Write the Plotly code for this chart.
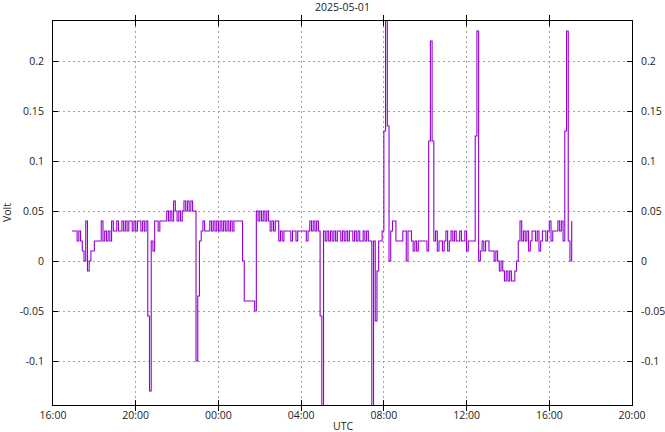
import pandas as pd
import plotly.graph_objects as go

# ---- data: voltage sampled every 5 minutes, starting 2025-04-30 16:55 UTC ----
start_time = "2025-04-30 16:55"
v_1655 = [0.03]
v_17 = [0.03, 0.03, 0.02, 0.03, 0.02, 0.01, 0.00, 0.04, -0.01, 0.00, 0.01, 0.01]
v_18 = [0.02, 0.02, 0.02, 0.02, 0.04, 0.02, 0.03, 0.02, 0.03, 0.02, 0.04, 0.03]
v_19 = [0.03, 0.04, 0.03, 0.03, 0.04, 0.03, 0.04, 0.03, 0.04, 0.04, 0.03, 0.04]
v_20 = [0.03, 0.04, 0.04, 0.03, 0.04, 0.03, 0.04, -0.055, -0.13, 0.02, 0.01, 0.04]
v_21 = [0.04, 0.03, 0.04, 0.04, 0.04, 0.04, 0.05, 0.04, 0.05, 0.04, 0.06, 0.05]
v_22 = [0.04, 0.05, 0.04, 0.05, 0.06, 0.05, 0.06, 0.05, 0.06, 0.05, 0.05, -0.10]
v_23 = [-0.035, 0.02, 0.03, 0.04, 0.03, 0.03, 0.03, 0.04, 0.03, 0.04, 0.03, 0.04]
v_00 = [0.03, 0.04, 0.03, 0.04, 0.03, 0.04, 0.03, 0.04, 0.03, 0.04, 0.04, 0.04]
v_01 = [0.04, 0.04, 0.00, -0.04, -0.04, -0.04, -0.04, -0.04, -0.04, -0.05, 0.05, 0.04]
v_02 = [0.05, 0.04, 0.05, 0.04, 0.05, 0.04, 0.03, 0.04, 0.03, 0.04, 0.04, 0.02]
v_03 = [0.03, 0.02, 0.03, 0.03, 0.03, 0.03, 0.02, 0.03, 0.03, 0.02, 0.03, 0.03]
v_04 = [0.03, 0.03, 0.03, 0.02, 0.03, 0.04, 0.03, 0.04, 0.03, 0.04, 0.03, -0.055]
v_05 = [-0.16, 0.03, 0.02, 0.03, 0.02, 0.03, 0.02, 0.03, 0.02, 0.03, 0.03, 0.02]
v_06 = [0.03, 0.02, 0.03, 0.02, 0.03, 0.03, 0.02, 0.03, 0.02, 0.03, 0.02, 0.02]
v_07 = [0.03, 0.02, 0.03, 0.02, 0.02, -0.16, 0.02, -0.06, -0.01, 0.02, 0.02, 0.03]
v_08 = [0.13, 0.30, 0.135, 0.00, 0.03, 0.04, 0.04, 0.02, 0.02, 0.02, 0.02, 0.03]
v_09 = [0.03, 0.00, 0.03, 0.03, 0.02, 0.01, 0.02, 0.01, 0.02, 0.02, 0.02, 0.02]
v_10 = [0.02, 0.01, 0.12, 0.22, 0.12, 0.02, 0.03, 0.01, 0.02, 0.02, 0.01, 0.02]
v_11 = [0.03, 0.01, 0.02, 0.03, 0.02, 0.03, 0.02, 0.02, 0.03, 0.02, 0.02, 0.03]
v_12 = [0.01, 0.02, 0.02, 0.02, 0.02, 0.125, 0.23, 0.00, 0.01, 0.02, 0.01, 0.02]
v_13 = [0.02, 0.01, 0.01, 0.01, 0.00, 0.01, 0.00, -0.01, 0.00, -0.01, -0.02, -0.01]
v_14 = [-0.02, -0.01, -0.02, -0.02, -0.01, 0.00, 0.02, 0.04, 0.02, 0.03, 0.02, 0.03]
v_15 = [0.01, 0.02, 0.03, 0.03, 0.02, 0.03, 0.01, 0.02, 0.03, 0.03, 0.02, 0.03]
v_16 = [0.04, 0.02, 0.03, 0.03, 0.03, 0.04, 0.03, 0.04, 0.02, 0.13, 0.23, 0.02]
v_17_end = [0.00, 0.04]

y_tick_vals = [-0.1, -0.05, 0, 0.05, 0.1, 0.15, 0.2]
y_tick_labels = ["-0.1", "-0.05", "0", "0.05", "0.1", "0.15", "0.2"]
x_tick_labels = ["16:00", "20:00", "00:00", "04:00", "08:00", "12:00", "16:00", "20:00"]

values = (v_1655 + v_17 + v_18 + v_19 + v_20 + v_21 + v_22 + v_23 + v_00 + v_01
          + v_02 + v_03 + v_04 + v_05 + v_06 + v_07 + v_08 + v_09 + v_10 + v_11
          + v_12 + v_13 + v_14 + v_15 + v_16 + v_17_end)
times = pd.date_range(start_time, periods=len(values), freq="5min")
x_tick_vals = pd.date_range("2025-04-30 16:00", periods=len(x_tick_labels), freq="4h")

FONT = "Open Sans"
FS = 10.5
fig = go.Figure()
fig.add_trace(go.Scatter(x=times, y=values, mode="lines", line_shape="hv",
                         line=dict(color="#9400D3", width=1.1), showlegend=False,
                         hoverinfo="skip"))
fig.add_trace(go.Scatter(x=times[:1], y=values[:1], yaxis="y2", mode="markers",
                         marker=dict(opacity=0), showlegend=False, hoverinfo="skip"))

grid = dict(showgrid=True, gridcolor="#a0a0a0", gridwidth=1, griddash="2px,3px")
fig.update_layout(
    width=665, height=432,
    margin=dict(l=53, r=33, t=21, b=27, autoexpand=False),
    paper_bgcolor="white", plot_bgcolor="white",
    font=dict(family=FONT, size=FS, color="#222"),
    title=dict(text="2025-05-01", x=0.5, xref="paper", y=1 - 7 / 432, yref="container",
               xanchor="center", yanchor="middle", font=dict(size=FS)),
    xaxis=dict(range=["2025-04-30 16:00", "2025-05-01 20:00"], tickvals=x_tick_vals,
               ticktext=x_tick_labels, showline=True, linecolor="black", linewidth=1,
               mirror="allticks", ticks="inside", ticklen=5, tickcolor="black",
               zeroline=False, automargin=False, ticklabelstandoff=0, **grid),
    yaxis=dict(range=[-0.144, 0.24], tickvals=y_tick_vals, ticktext=y_tick_labels,
               showline=True, linecolor="black", linewidth=1, mirror="allticks",
               ticks="inside", ticklen=5, tickcolor="black", zeroline=False,
               automargin=False, ticklabelstandoff=6, **grid),
    yaxis2=dict(range=[-0.144, 0.24], tickvals=y_tick_vals, ticktext=y_tick_labels,
                overlaying="y", side="right", showgrid=False, zeroline=False,
                ticks="", showline=False, automargin=False, ticklabelstandoff=8),
    annotations=[
        dict(text="UTC", xref="paper", yref="paper", x=0.5, y=-(426 - 405) / 384,
             xanchor="center", yanchor="middle", showarrow=False, font=dict(size=FS)),
        dict(text="Volt", xref="paper", yref="paper", x=(7 - 53) / 579, y=(405 - 213) / 384,
             xanchor="center", yanchor="middle", textangle=-90, showarrow=False,
             font=dict(size=FS)),
    ],
)
fig.write_html("out.html", config={"displayModeBar": False},
               post_script="document.body.style.margin='0';document.body.style.padding='0';")
